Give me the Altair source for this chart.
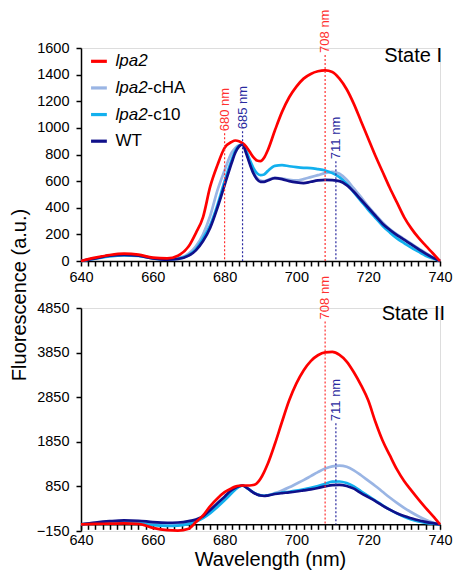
import altair as alt
import pandas as pd

FONT = "Liberation Sans"

wavelength = [640, 644, 648, 652, 656, 660, 664, 667,
              670, 672, 674, 676, 678, 680, 682,
              683, 684, 685, 686, 687, 688, 689, 690, 691, 692,
              694, 696, 698, 700, 702, 704, 706, 708, 710, 712, 714, 716, 718, 720,
              722, 724, 726, 728, 730, 732, 734, 736, 738, 740]

series_names = ["lpa2", "lpa2-cHA", "lpa2-c10", "WT"]
series_colors = ["#ff0000", "#9ab5e4", "#12b0ee", "#10108a"]

# State I
s1_lpa2 = [0, 25, 45, 55, 48, 25, 20, 40,
           110, 210, 330, 560, 720, 850, 895,
           905, 900, 885, 860, 820, 780, 755, 750, 775, 830,
           980, 1120, 1230, 1310, 1370, 1405, 1425, 1432, 1420, 1370, 1290, 1180, 1050, 920,
           790, 670, 550, 440, 330, 245, 175, 115, 58, 0]
s1_cha = [0, 20, 40, 48, 42, 22, 12, 20,
          55, 110, 200, 340, 530, 680, 815,
          850, 870, 875, 820, 740, 670, 625, 605, 600, 608,
          625, 620, 610, 605, 615, 630, 645, 660, 670, 655, 610, 545, 480, 410,
          350, 290, 240, 200, 165, 130, 95, 60, 28, 0]
s1_c10 = [0, 18, 35, 42, 38, 20, 12, 18,
          45, 90, 170, 270, 420, 600, 760,
          830, 865, 875, 830, 760, 700, 660, 645, 650, 675,
          715, 720, 712, 705, 700, 698, 690, 680, 660, 630, 580, 515, 450, 385,
          325, 265, 215, 170, 135, 100, 70, 40, 18, 0]
s1_wt = [0, 20, 40, 45, 40, 20, 10, 15,
         40, 80, 150, 250, 400, 570, 740,
         815, 860, 875, 810, 730, 660, 615, 595, 595, 605,
         622, 615, 600, 590, 585, 595, 605, 610, 608, 600, 570, 520, 460, 400,
         340, 280, 235, 195, 160, 125, 90, 55, 25, 0]

# State II
s2_lpa2 = [0, 10, 15, 20, 10, -80, -130, -140,
           -100, 50, 200, 410, 580, 720, 810,
           845, 865, 870, 870, 870, 880, 920, 1020, 1170, 1350,
           1800, 2300, 2780, 3160, 3450, 3660, 3790, 3855, 3865, 3800, 3650, 3410, 3120, 2780,
           2300, 1880, 1550, 1230, 970, 760, 560, 370, 190, 0]
s2_cha = [0, 25, 45, 55, 45, 10, -10, 0,
          30, 80, 160, 270, 410, 560, 720,
          790, 845, 870, 830, 770, 715, 675, 650, 640, 650,
          700, 760, 830, 910, 990, 1080, 1170, 1250, 1300, 1315, 1290, 1210, 1100, 980,
          860, 730, 600, 480, 370, 270, 180, 100, 40, 0]
s2_c10 = [0, 20, 30, 35, 25, -20, -35, -30,
          10, 60, 140, 250, 390, 540, 700,
          780, 840, 865, 830, 770, 715, 675, 650, 640, 648,
          685, 710, 730, 755, 785, 820, 860, 910, 955, 960, 925, 850, 740, 635,
          530, 425, 330, 245, 170, 110, 65, 32, 12, 0]
s2_wt = [0, 40, 70, 88, 80, 50, 35, 40,
         70, 110, 180, 320, 470, 620, 770,
         820, 855, 870, 830, 770, 710, 670, 645, 635, 645,
         680, 700, 715, 735, 760, 785, 815, 850, 880, 885, 860, 800, 700, 610,
         520, 420, 330, 250, 185, 135, 90, 55, 25, 0]

# peak markers: wavelength, top of dotted line, label, colour
mk1_wl = [680, 685, 708, 711]
mk1_top = [960, 975, 1548, 750]
mk1_lab = ["680 nm", "685 nm", "708 nm", "711 nm"]
mk1_col = ["#ff3030", "#2a2aa0", "#ff3030", "#2a2aa0"]

mk2_wl = [708, 711]
mk2_top = [4550, 2267]
mk2_lab = ["708 nm", "711 nm"]
mk2_col = ["#ff3030", "#2a2aa0"]

# legend rows (in State I data units)
leg_y = [1500, 1300, 1100, 900]
leg_ital = ["lpa2", "lpa2", "lpa2", ""]
leg_rest = ["", "-cHA", "-c10", "WT"]

x_ticks = list(range(640, 741, 2))
y1_ticks = list(range(0, 1601, 200))
y2_ticks = [-150, 850, 1850, 2850, 3850, 4850]

W = 359
H1 = 213
H2 = 223
GAP = 47
ZERO_OFF = 150.0 / 5000.0 * H2


def x_axis(bottom):
    kw = dict(values=x_ticks,
              labelExpr="datum.value % 20 == 0 ? datum.label : ''",
              labelOverlap=False, labelFlush=False, labelBound=False,
              grid=False, domainColor="black", domainWidth=1.5,
              tickColor="black", tickWidth=1.5, tickSize=5,
              labelFontSize=14.5, labelPadding=4, labelColor="black",
              labelFont=FONT, format="d")
    if bottom:
        kw.update(title="Wavelength (nm)", offset=-ZERO_OFF, titleFontSize=20,
                  titleFont=FONT, titleFontWeight="normal", titleColor="black",
                  titleX=189, titlePadding=3)
    else:
        kw.update(title=None)
    return alt.Axis(**kw)


def y_axis(values, title):
    kw = dict(values=values, grid=False, domainColor="black", domainWidth=1.5,
              tickColor="black", tickWidth=1.5, tickSize=5, labelFontSize=14.5,
              labelPadding=7, labelColor="black", labelFont=FONT, format="d")
    if title:
        kw.update(title=title, titleFontSize=20, titleFont=FONT,
                  titleFontWeight="normal", titleColor="black", titleAngle=270,
                  titleX=-62, titleY=H1 + GAP / 2 + 10, titleAlign="center",
                  titleBaseline="middle")
    else:
        kw.update(title=None)
    return alt.Axis(**kw)


def panel(series, ydom, yvals, height, bottom, marks, state_text, state_y, state_dx):
    xs = alt.Scale(domain=[640, 740], nice=False, zero=False)
    ys = alt.Scale(domain=ydom, nice=False, zero=False)
    X = alt.X("wl:Q", scale=xs, axis=x_axis(bottom))
    Y = alt.Y("val:Q", scale=ys, axis=y_axis(yvals, None if bottom else "Fluorescence (a.u.)"))
    layers = []
    # draw order: cHA, c10, WT, lpa2
    for idx in [1, 2, 3, 0]:
        df = pd.DataFrame({"wl": wavelength, "val": series[idx]})
        layers.append(
            alt.Chart(df).mark_line(interpolate="monotone", strokeWidth=2.7,
                                    color=series_colors[idx]).encode(x=X, y=Y)
        )
    mdf = pd.DataFrame({"wl": marks[0], "val": marks[1], "lab": marks[2],
                        "col": marks[3], "base": [0] * len(marks[0])})
    layers.append(alt.Chart(mdf).mark_rule(strokeDash=[2, 2], strokeWidth=1.2).encode(
        x=X, y=Y, y2="base:Q", color=alt.Color("col:N", scale=None)))
    layers.append(alt.Chart(mdf).mark_text(angle=270, align="left", baseline="middle",
                                           dx=2, fontSize=13, font=FONT).encode(
        x=X, y=Y, text="lab:N", color=alt.Color("col:N", scale=None)))
    sdf = pd.DataFrame({"wl": [740], "val": [state_y], "t": [state_text]})
    layers.append(alt.Chart(sdf).mark_text(align="right", baseline="middle", fontSize=20,
                                           font=FONT, color="black", dx=state_dx).encode(
        x=X, y=Y, text="t:N"))
    if not bottom:
        ldf = pd.DataFrame({"val": leg_y, "ital": leg_ital, "rest": leg_rest,
                            "col": series_colors, "x0": [642.8] * 4, "x1": [647.2] * 4,
                            "wl": [649.6] * 4})
        layers.append(alt.Chart(ldf).mark_rule(strokeWidth=3.2).encode(
            x=alt.X("x0:Q", scale=xs, axis=x_axis(False)), x2="x1:Q", y=Y,
            color=alt.Color("col:N", scale=None)))
        layers.append(alt.Chart(ldf).mark_text(align="left", baseline="middle", fontSize=17,
                                               font=FONT, fontStyle="italic",
                                               color="black").encode(
            x=X, y=Y, text="ital:N"))
        layers.append(alt.Chart(ldf[ldf["ital"] != ""]).mark_text(
            align="left", baseline="middle", fontSize=17, font=FONT, color="black",
            dx=32).encode(x=X, y=Y, text="rest:N"))
        layers.append(alt.Chart(ldf[ldf["ital"] == ""]).mark_text(
            align="left", baseline="middle", fontSize=17, font=FONT, color="black").encode(
            x=X, y=Y, text="rest:N"))
    return alt.layer(*layers).properties(width=W, height=height)


top = panel([s1_lpa2, s1_cha, s1_c10, s1_wt], [0, 1600], y1_ticks, H1, False,
            (mk1_wl, mk1_top, mk1_lab, mk1_col), "State I", 1540, 2)
bot = panel([s2_lpa2, s2_cha, s2_c10, s2_wt], [-150, 4850], y2_ticks, H2, True,
            (mk2_wl, mk2_top, mk2_lab, mk2_col), "State II", 4716, 5)

chart = alt.vconcat(top, bot, spacing=GAP, bounds="flush").properties(
    padding={"left": 0, "top": 1, "right": 0, "bottom": 0}
).configure_view(stroke=None).configure(font=FONT)

chart.save("out.html", embed_options={"renderer": "svg", "actions": False})
